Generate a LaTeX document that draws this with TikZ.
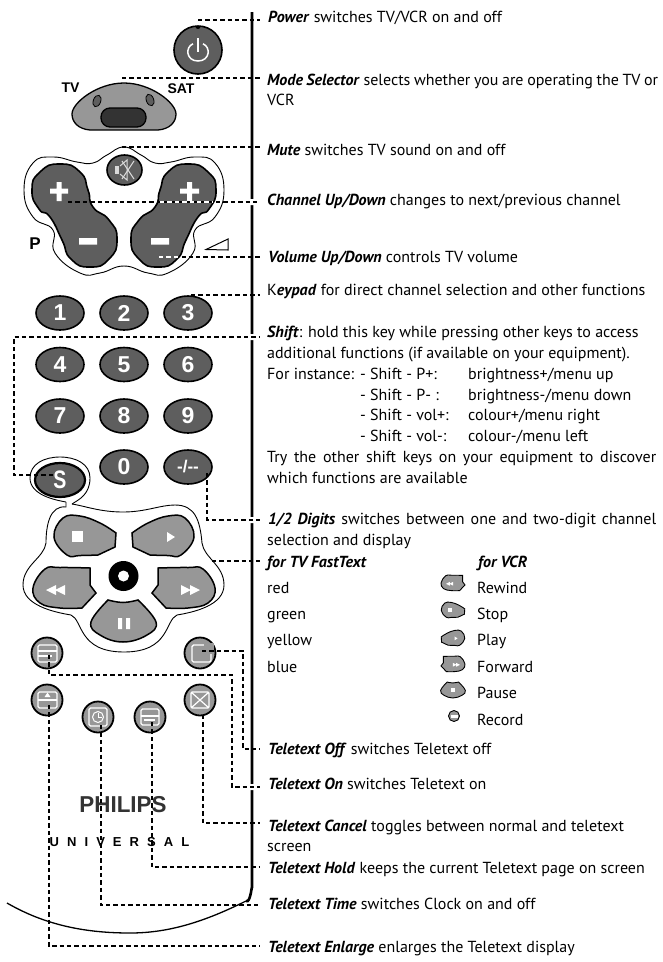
\documentclass[tikz,border=0pt]{standalone}
\usepackage{fontspec}
\usetikzlibrary{shapes.geometric}
\setmainfont{PT Sans}
\newfontfamily\keyfont{Liberation Sans}
\newfontfamily\brandfont[LetterSpace=62]{Liberation Sans}
% Outlines of the transport keys, drawn around their place on the handset
\def\stoppath{plot[smooth,tension=0.7] coordinates {(116,533)(100,523)(80,516)(63,518)(54,537)(67,555)(80,555.5)(98,555)} -- (115,547) -- cycle}
\def\rewindpath{plot[smooth,tension=0.7] coordinates {(90,568)(60,567.5)(45,569)(33,588)(40,603)(60,608)(82,608)} -- (96,593) -- (90,585) -- cycle}
\def\pausepath{plot[smooth,tension=0.7] coordinates {(108,600)(123,602.5)(138,600)} -- plot[smooth,tension=0.7] coordinates {(138,600)(156,622)(147,635)(123,642)(100,635)(91,622)(108,600)} -- cycle}
\def\rockerpath{plot[smooth cycle,tension=1] coordinates {(60,164)(80,172)(88,190)(93,207)(109,220)(117,239)(109,259)(90,267)(71,259)(62,240)(50,217)(39,209)(32,190)(40,172)}}
\definecolor{keydark}{HTML}{5E5E5E}
\definecolor{keymid}{HTML}{979797}
\definecolor{inkdark}{HTML}{333333}
\tikzset{
  x=1pt,y=-1pt,
  leader/.style={black,line width=1.6pt,dash pattern=on 4.4pt off 3pt},
  leaderlight/.style={white,line width=1.6pt,dash pattern=on 4.4pt off 3pt},
  shell/.style={black,line width=0.9pt},
  darkkey/.style={draw=black,line width=1.6pt,fill=keydark},
  midkey/.style={draw=black,line width=1.5pt,fill=keymid},
  digitkey/.style={ellipse,darkkey,minimum width=48pt,minimum height=34pt,inner sep=0pt,text=white,font=\keyfont\bfseries\fontsize{23}{23}\selectfont},
  texkey/.style={circle,midkey,line width=1.8pt,minimum size=31pt,inner sep=0pt},
  icon/.style={white,line width=1.2pt},
  desc/.style={anchor=base west,inner sep=0pt,font=\fontsize{16}{18}\selectfont},
  legend/.style={anchor=base,inner sep=0pt,font=\keyfont\bfseries\fontsize{14}{14}\selectfont},
}
\begin{document}
\begin{tikzpicture}
\useasboundingbox (0,0) rectangle (662,962);

% handset edge, broken where the leaders pass
\draw[line width=2.6pt] (252,12) -- (252,888) to[out=90,in=-35] (246,901);
\draw[line width=1.3pt] (246,901) .. controls (200,924) and (165,933) .. (130,933) .. controls (85,933) and (45,925) .. (7,903);
\fill[white] (250,199) rectangle (254,205) (250,334) rectangle (254,340) (250,517) rectangle (254,523) (250,784) rectangle (254,790);

% power key
\node[circle,darkkey,minimum size=48pt,inner sep=0pt] (power) at (198,50) {};
\fill[black] (195.5,26.5) arc[start angle=180,end angle=0,radius=2.5] -- cycle;
\coordinate (powertip) at (198,20);
\draw[white,line width=1.5pt] (193,43.8) .. controls (185,47) and (186,61) .. (198,61) .. controls (210,61) and (211,47) .. (203,43.8);
\draw[white,line width=1.8pt] (198,38) -- (198,52);

% mode selector
\draw[black,line width=1.3pt,fill=keymid] (90,130) .. controls (78,129) and (72,122) .. (72,114) .. controls (72,103) and (97,83) .. (124,83) .. controls (151,83) and (176,103) .. (176,114) .. controls (176,122) and (170,129) .. (158,130) -- cycle;
\draw[black,line width=1.3pt,fill=inkdark,rounded corners=9pt] (101,108) rectangle (146,127);
\draw[black,line width=0.8pt,fill=keydark,rotate around={-20:(97,101)}] (97,101) ellipse (3.7pt and 6pt);
\draw[black,line width=0.8pt,fill=keydark,rotate around={20:(150,100)}] (150,100) ellipse (3.7pt and 6pt);
\node[legend] (tvtag) at (70.5,92.5) {TV};
\node[legend] (sattag) at (181,93) {SAT};
\coordinate (modetip) at (122,78);

% surround of the volume and channel rockers
\draw[shell] plot[smooth cycle,tension=0.8] coordinates {(124,147)(107,155)(93,163)(77,162)(53,157)(33,163)(24,190)(33,217)(53,230)(55,253)(80,273)(100,273)(124,266)(148,273)(168,273)(193,253)(195,230)(215,217)(224,190)(215,163)(195,157)(171,162)(155,163)(141,155)};
\coordinate (mutetip) at (122,147);

% rockers, the right one a mirror image of the left one
\draw[darkkey] \rockerpath;
\begin{scope}[shift={(248,0)},xscale=-1]
\draw[darkkey] \rockerpath;
\end{scope}
\fill[white] (50,188.5) rectangle (68,193.5) (56.5,182) rectangle (61.5,201);
\fill[white] (180,188.5) rectangle (199,193.5) (187,182) rectangle (192,201);
\fill[white] (79,238) rectangle (97,244.5) (151,238) rectangle (169,244.5);
\node[legend,font=\keyfont\bfseries\fontsize{17}{17}\selectfont] (ptag) at (35,249.5) {P};
\draw[black,line width=1pt] (206,249.5) -- (228,239) -- (228,250) -- cycle;

% mute key
\node[ellipse,darkkey,minimum width=35pt,minimum height=30pt,inner sep=0pt] (mute) at (124.5,170) {};
\fill[white!85!black] (115,166) rectangle (119,174);
\draw[white!85!black,line width=1pt] (120,166) -- (127,160) -- (127,180) -- (120,174);
\draw[white!85!black,line width=1pt] (122,161) -- (134,179) (134,161) -- (122,179);

% numeric keys
\node[digitkey] (k1) at (60,313) {1};
\node[digitkey] (k2) at (124,313) {2};
\node[digitkey] (k3) at (188,313) {3};
\node[digitkey] (k4) at (60,364.5) {4};
\node[digitkey] (k5) at (124,364.5) {5};
\node[digitkey] (k6) at (188,364.5) {6};
\node[digitkey] (k7) at (60,416) {7};
\node[digitkey] (k8) at (124,416) {8};
\node[digitkey] (k9) at (188,416) {9};
\node[digitkey] (k0) at (124,467) {0};
\node[digitkey,font=\keyfont\bfseries\fontsize{17}{17}\selectfont] (kdash) at (188,467) {-/--};
\coordinate (digitstip) at (207,473);

% surround of the shift key, running into the surround of the transport keys
\draw[shell] (66,502) .. controls (55,500) and (30,495) .. (30,478) .. controls (30,464) and (44,457) .. (60,457) .. controls (76,457) and (90,464) .. (90,478) .. controls (90,495) and (78,500) .. (72,504);
\draw[shell] (72,504) .. controls (85,506) and (100,512) .. (123,512) .. controls (146,512) and (160,505) .. (175,505) .. controls (195,505) and (200,520) .. (202,543) .. controls (204,558) and (224,565) .. (224,585) .. controls (224,605) and (195,612) .. (177,615) .. controls (165,620) and (170,652) .. (124,652) .. controls (78,652) and (83,620) .. (71,615) .. controls (53,612) and (23,605) .. (23,585) .. controls (23,565) and (44,558) .. (46,543) .. controls (46,525) and (50,505) .. (66,507) -- (66,502);

\node[digitkey,line width=2.2pt,minimum width=50pt] (kshift) at (60,480) {\scalebox{0.85}[1.1]{S}};

% record key, then the transport keys around it
\fill[black] (123.5,576) circle (15pt);
\fill[white] (123.5,576) circle (5.5pt);
\draw[midkey] \stoppath;
\draw[midkey] \rewindpath;
\draw[midkey] \pausepath;
\begin{scope}[shift={(248,0)},xscale=-1]
\draw[midkey] \stoppath;
\draw[midkey] \rewindpath;
\end{scope}
\fill[white] (72,531) rectangle (83,542);
\fill[white] (167,532) -- (175,537) -- (167,542) -- cycle;
\fill[white] (56,585) -- (46,590) -- (56,595) -- cycle (65,585) -- (55,590) -- (65,595) -- cycle;
\fill[white] (181,585) -- (191,590) -- (181,595) -- cycle (190,585) -- (200,590) -- (190,595) -- cycle;
\fill[white] (118,618) rectangle (122,629) (126,618) rectangle (130,629);
\coordinate (transporttip) at (212,561);

% teletext keys
\node[texkey] (ttxon) at (47,653) {};
\node[texkey] (ttxoff) at (200,653) {};
\node[texkey] (ttxenl) at (47,700) {};
\node[texkey] (ttxcan) at (200,700) {};
\node[texkey] (ttxtime) at (98,717) {};
\node[texkey] (ttxhold) at (150,717) {};
\draw[icon,rounded corners=1.5pt] (38,645) rectangle (57,662);
\draw[icon] (38,651) -- (57,651) (38,656) -- (52,656);
\draw[icon,rounded corners=1.5pt,line width=1.4pt] (192,645) rectangle (211,662);
\fill[keymid] (204,643) rectangle (214,654);
\draw[icon,rounded corners=1.5pt] (38,692) rectangle (57,708);
\draw[icon] (38,700) -- (57,700);
\fill[white] (44.5,697) -- (47.5,692.5) -- (50.5,697) -- cycle;
\draw[icon,rounded corners=1.5pt] (191,692) rectangle (209,708);
\draw[icon] (191,692) -- (209,708) (209,692) -- (191,708);
\draw[icon,rounded corners=1.5pt] (89,708) rectangle (107,726);
\draw[icon,line width=1pt] (98,717) circle (5.5pt);
\draw[icon,line width=1pt] (98,712.5) -- (98,717) -- (102,717);
\draw[icon,rounded corners=1.5pt] (141,709) rectangle (159,725);
\draw[icon] (141,716) -- (159,716) (144,720) -- (155,720);

% brand marks
\node[anchor=base,inner sep=0pt,text=inkdark] (brand) at (123,812) {\scalebox{1.12}[1.15]{\keyfont\bfseries\fontsize{20}{20}\selectfont PHILIPS}};
\node[anchor=base west,inner sep=0pt] (series) at (49.5,846) {\brandfont\bfseries\fontsize{13}{13}\selectfont UNIVERSAL};

% descriptions
\node[desc] (tpower) at (268,22) {\textbf{\textit{Power}} switches TV/VCR on and off};
\node[desc] (tmode) at (267,85) {\makebox[391pt][s]{\textbf{\textit{Mode Selector}} selects whether you are operating the TV or}};
\node[desc] (tmode2) at (267,105) {VCR};
\node[desc] (tmute) at (267,155) {\textbf{\textit{Mute}} switches TV sound on and off};
\node[desc] (tchan) at (267,205) {\textbf{\textit{Channel Up/Down}} changes to next/previous channel};
\node[desc] (tvol) at (268,262) {\textbf{\textit{Volume Up/Down}} controls TV volume};
\node[desc] (tkey) at (267,295) {K\textbf{\textit{eypad}} for direct channel selection and other functions};
\node[desc] (tshift) at (267,337) {\textbf{\textit{Shift}}: hold this key while pressing other keys to access};
\node[desc] (tshift2) at (267,358) {additional functions (if available on your equipment).};
\node[desc] (tshift3) at (267,379) {For instance:};
\node[desc] (ts1) at (360,379) {- Shift - P+:};
\node[desc] (tb1) at (468,379) {brightness+/menu up};
\node[desc] (ts2) at (360,400) {- Shift - P- :};
\node[desc] (tb2) at (468,400) {brightness-/menu down};
\node[desc] (ts3) at (360,420) {- Shift - vol+:};
\node[desc] (tb3) at (468,420) {colour+/menu right};
\node[desc] (ts4) at (360,441) {- Shift - vol-:};
\node[desc] (tb4) at (468,441) {colour-/menu left};
\node[desc] (ttry) at (267,462) {\makebox[389pt][s]{Try the other shift keys on your equipment to discover}};
\node[desc] (twhich) at (267,483) {which functions are available};
\node[desc] (tdig) at (268,524) {\makebox[388pt][s]{\textbf{\textit{1/2 Digits}} switches between one and two-digit channel}};
\node[desc] (tdig2) at (267,545) {selection and display};
\node[desc] (tfast) at (267,567) {\textbf{\textit{for TV FastText}}};
\node[desc] (tforvcr) at (478,567) {\textbf{\textit{for VCR}}};
\node[desc] (tred) at (267,593) {red};
\node[desc] (tgreen) at (267,619) {green};
\node[desc] (tyellow) at (267,645) {yellow};
\node[desc] (tblue) at (267,672) {blue};
\node[desc] (trew) at (477,593) {Rewind};
\node[desc] (tstop) at (477,619) {Stop};
\node[desc] (tplay) at (477,645) {Play};
\node[desc] (tfwd) at (477,672) {Forward};
\node[desc] (tpause) at (477,698) {Pause};
\node[desc] (trec) at (477,725) {Record};
\node[desc] (toff) at (268,754) {\textbf{\textit{Teletext Off}} switches Teletext off};
\node[desc] (ton) at (268,789) {\textbf{\textit{Teletext On}} switches Teletext on};
\node[desc] (tcan) at (268,831) {\textbf{\textit{Teletext Cancel}} toggles between normal and teletext};
\node[desc] (tcan2) at (267,851) {screen};
\node[desc] (thold) at (268,873) {\textbf{\textit{Teletext Hold}} keeps the current Teletext page on screen};
\node[desc] (ttime) at (268,909) {\textbf{\textit{Teletext Time}} switches Clock on and off};
\node[desc] (tenl) at (268,952) {\textbf{\textit{Teletext Enlarge}} enlarges the Teletext display};

% small key pictures of the VCR legend
\begin{scope}[shift={(453,583)},scale=0.38,shift={(-64.5,-588)}]
\draw[midkey,line width=0.9pt] \rewindpath;
\fill[white] (56,585) -- (46,590) -- (56,595) -- cycle (65,585) -- (55,590) -- (65,595) -- cycle;
\end{scope}
\begin{scope}[shift={(453,610)},scale=0.38,shift={(-85,-536)}]
\draw[midkey,line width=0.9pt] \stoppath;
\fill[white] (72,531) rectangle (83,542);
\end{scope}
\begin{scope}[shift={(453,638)},scale=0.38,shift={(85,-536)},xscale=-1]
\draw[midkey,line width=0.9pt] \stoppath;
\fill[white] (81,532) -- (73,537) -- (81,542) -- cycle;
\end{scope}
\begin{scope}[shift={(453,664)},scale=0.38,shift={(64.5,-588)},xscale=-1]
\draw[midkey,line width=0.9pt] \rewindpath;
\fill[white] (56,585) -- (46,590) -- (56,595) -- cycle (65,585) -- (55,590) -- (65,595) -- cycle;
\end{scope}
\begin{scope}[shift={(453,690)},scale=0.38,shift={(-123.5,-621)}]
\draw[midkey,line width=0.9pt] \pausepath;
\fill[white] (118,616) rectangle (129,627);
\end{scope}
\node[circle,draw=black,line width=0.9pt,fill=keymid,minimum size=11pt,inner sep=0pt] (recmini) at (454,716) {};
\fill[white] (450.5,715) rectangle (457.5,717.5);

% leader end points
\coordinate (lpower) at (260,20);
\coordinate (lmode) at (260,78);
\coordinate (lmute) at (260,147);
\coordinate (lchan) at (260,202);
\coordinate (chanstart) at (68,202);
\coordinate (lvol) at (260,257);
\coordinate (volstart) at (159,257);
\coordinate (lkey) at (260,295);
\coordinate (keystart) at (191,295);
\coordinate (lshift) at (260,337);
\coordinate (shiftstart) at (53,475);
\coordinate (ldig) at (260,520);
\coordinate (lfast) at (260,561);
\coordinate (loff) at (260,749);
\coordinate (offstart) at (202,651);
\coordinate (lon) at (260,787);
\coordinate (onstart) at (49,655);
\coordinate (lcan) at (260,823);
\coordinate (canstart) at (203,715);
\coordinate (lhold) at (260,867);
\coordinate (holdstart) at (152,722);
\coordinate (ltime) at (260,905);
\coordinate (timestart) at (101,725);
\coordinate (lenl) at (260,946);
\coordinate (enlstart) at (49,705);

% leaders
\draw[leader] (powertip) -- (lpower);
\draw[leader] (modetip) -- (lmode);
\draw[leader] (mutetip) -- (lmute);
\draw[leader] (chanstart) -- (lchan);
\draw[leader] (volstart) -- (lvol);
\draw[leader] (keystart) -- (lkey);
\draw[leader] (shiftstart) -- (14,475) -- (14,337) -- (lshift);
\draw[leader] (digitstip) -- (207,520) -- (ldig);
\draw[leader] (transporttip) -- (lfast);
\draw[leader] (offstart) -- (243,651) -- (243,749) -- (loff);
\draw[leader] (onstart) -- (49,675) -- (232,675) -- (232,787) -- (lon);
\draw[leader] (canstart) -- (203,823) -- (lcan);
\draw[leader] (holdstart) -- (152,867) -- (lhold);
\draw[leader] (timestart) -- (101,905) -- (ltime);
\draw[leader] (enlstart) -- (49,946) -- (lenl);
% over dark keys the dashes show light
\coordinate (chanlight) at (213,202);
\coordinate (chanlightstart) at (160,202);
\coordinate (vollight) at (182,257);
\draw[leaderlight] (chanlightstart) -- (chanlight);
\draw[leaderlight] (volstart) -- (vollight);
\end{tikzpicture}
\end{document}
